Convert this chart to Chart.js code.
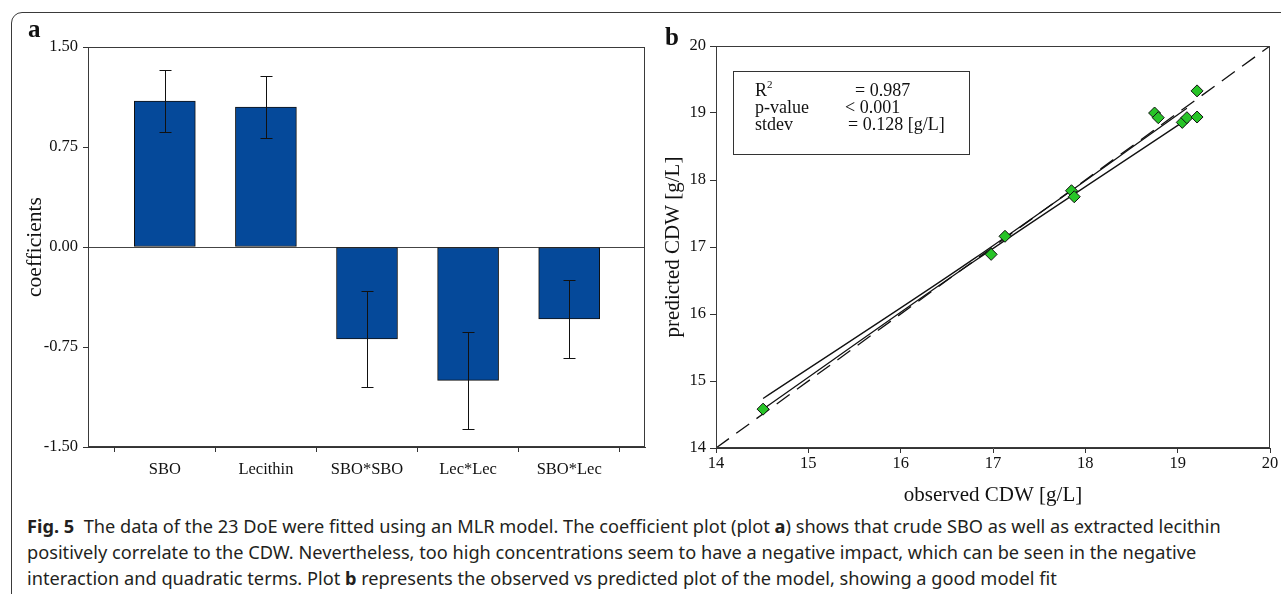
<!DOCTYPE html>
<html>
<head>
<meta charset="utf-8">
<script src="https://cdn.jsdelivr.net/npm/chart.js@4.4.1/dist/chart.umd.min.js"></script>
<style>
  body { margin: 0; width: 1281px; height: 594px; overflow: hidden; background: #fff; position: relative; font-family: "Liberation Serif", serif; color: #111; }
  .frame { position: absolute; left: 11px; top: 12px; width: 1320px; height: 640px; border: 1.5px solid #3a3a3a; border-radius: 11px; box-sizing: border-box; }
  canvas { position: absolute; top: 0; }
  #chartA { left: 0; }
  #chartB { left: 650px; }
  .panel-label { position: absolute; font: bold 25px/25px "Liberation Serif", serif; }
  .stats-box { position: absolute; left: 733px; top: 71px; width: 237px; height: 84px; border: 1.5px solid #333; box-sizing: border-box; }
  .st { position: absolute; font: 18px/18px "Liberation Serif", serif; white-space: nowrap; }
  .st sup { font-size: 11px; vertical-align: 8px; line-height: 0; }
  .caption { position: absolute; left: 27px; font: 18.2px/26px "Noto Sans", sans-serif; color: #231f20; white-space: nowrap; }
</style>
</head>
<body>
<div class="frame"></div>
<canvas id="chartA" width="660" height="510"></canvas>
<canvas id="chartB" width="631" height="510"></canvas>

<div class="panel-label" style="left:28px; top:16px;">a</div>
<div class="panel-label" style="left:665px; top:24px;">b</div>

<div class="stats-box"></div>
<div class="st" style="left:755px; top:81px;">R<sup>2</sup></div>
<div class="st" style="left:855px; top:81px;">= 0.987</div>
<div class="st" style="left:755px; top:98px;">p-value</div>
<div class="st" style="left:845px; top:98px;">&lt; 0.001</div>
<div class="st" style="left:755px; top:115px;">stdev</div>
<div class="st" style="left:848px; top:115px;">= 0.128 [g/L]</div>

<div class="caption" style="top:513px;"><b>Fig. 5</b>&nbsp; The data of the 23 DoE were fitted using an MLR model. The coefficient plot (plot <b>a</b>) shows that crude SBO as well as extracted lecithin</div>
<div class="caption" style="top:539px;">positively correlate to the CDW. Nevertheless, too high concentrations seem to have a negative impact, which can be seen in the negative</div>
<div class="caption" style="top:565px;">interaction and quadratic terms. Plot <b>b</b> represents the observed vs predicted plot of the model, showing a good model fit</div>

<script>
// plot a: MLR coefficients
const categories = ["SBO", "Lecithin", "SBO*SBO", "Lec*Lec", "SBO*Lec"];
const coefficients = [1.095, 1.05, -0.69, -1.0, -0.54];
const coefErrors = [0.236, 0.236, 0.362, 0.364, 0.29];
const coefTicks = [-1.5, -0.75, 0, 0.75, 1.5];

// plot b: observed vs predicted CDW [g/L]
const observedCDW = [19.21, 18.75, 18.79, 19.05, 19.1, 19.21, 17.85, 17.88, 17.13, 16.98, 14.51];
const predictedCDW = [19.33, 19.0, 18.93, 18.86, 18.93, 18.94, 17.84, 17.75, 17.16, 16.89, 14.58];
const cdwTicks = [14, 15, 16, 17, 18, 19, 20];
const unityLine = [14, 20];
const bandUpperX = [14.51, 16.8, 19.1];
const bandUpperY = [14.74, 16.83, 19.07];
const bandLowerX = [14.51, 16.8, 19.05];
const bandLowerY = [14.58, 16.79, 18.86];

const serif = (size) => ({ family: "Liberation Serif", size: size });

// box around the plot area
const frameBox = {
  id: "frameBox",
  afterDraw(chart) {
    const { ctx, chartArea: a } = chart;
    const l = Math.round(a.left) + 0.5, t = Math.round(a.top) + 0.5;
    const r = Math.round(a.right) - 0.5, b = Math.round(a.bottom) - 0.5;
    ctx.save();
    ctx.strokeStyle = "#3a3a3a";
    ctx.lineWidth = 1;
    ctx.strokeRect(l, t, r - l, b - t);
    ctx.restore();
  },
};

// whiskers on the coefficient bars
const errorBars = {
  id: "errorBars",
  afterDatasetsDraw(chart) {
    const { ctx, scales } = chart;
    ctx.save();
    ctx.strokeStyle = "#111";
    ctx.lineWidth = 1;
    coefficients.forEach((v, i) => {
      const px = Math.round(scales.x.getPixelForValue(i)) + 0.5;
      const top = Math.round(scales.y.getPixelForValue(v + coefErrors[i])) + 0.5;
      const bot = Math.round(scales.y.getPixelForValue(v - coefErrors[i])) + 0.5;
      ctx.beginPath();
      ctx.moveTo(px, top);
      ctx.lineTo(px, bot);
      ctx.moveTo(px - 6, top);
      ctx.lineTo(px + 6, top);
      ctx.moveTo(px - 6, bot);
      ctx.lineTo(px + 6, bot);
      ctx.stroke();
    });
    ctx.restore();
  },
};

new Chart(document.getElementById("chartA"), {
  type: "bar",
  data: {
    datasets: [
      {
        data: categories.map((c, i) => ({ x: i, y: coefficients[i] })),
        backgroundColor: "#05499a",
        borderColor: "#111",
        borderWidth: 1,
        borderSkipped: false,
        barThickness: 61,
      },
    ],
  },
  options: {
    responsive: false,
    animation: false,
    events: [],
    layout: { padding: { top: 47, right: 15, left: 0, bottom: 0 } },
    plugins: { legend: { display: false }, tooltip: { enabled: false } },
    scales: {
      x: {
        type: "linear",
        offset: false,
        min: -0.76,
        max: 4.75,
        afterFit: (s) => { s.height = 63; },
        afterBuildTicks: (s) => { s.ticks = categories.map((c, i) => ({ value: i })); },
        ticks: { callback: (v) => categories[v], font: serif(16.5), color: "#111", padding: 8, maxRotation: 0, autoSkip: false },
        grid: { drawOnChartArea: false, tickLength: 5, tickColor: "#333" },
        border: { color: "#333" },
      },
      y: {
        min: -1.5,
        max: 1.5,
        afterFit: (s) => { s.width = 88; },
        afterBuildTicks: (s) => { s.ticks = coefTicks.map((v) => ({ value: v })); },
        ticks: { callback: (v) => v.toFixed(2), font: serif(16.5), color: "#111", padding: 5 },
        grid: {
          color: (c) => (c.tick && c.tick.value === 0 ? "#444" : "rgba(0,0,0,0)"),
          tickLength: 5,
          tickColor: "#333",
        },
        border: { color: "#333" },
        title: { display: true, text: "coefficients", font: serif(21.5), color: "#111", padding: { top: 22, bottom: 0 } },
      },
    },
  },
  plugins: [frameBox, errorBars],
});

new Chart(document.getElementById("chartB"), {
  type: "scatter",
  data: {
    datasets: [
      {
        data: observedCDW.map((x, i) => ({ x: x, y: predictedCDW[i] })),
        pointStyle: "rectRot",
        pointRadius: 6,
        backgroundColor: "#27c427",
        borderColor: "#111",
        borderWidth: 1,
        order: 0,
      },
      {
        type: "line",
        data: unityLine.map((v) => ({ x: v, y: v })),
        borderColor: "#111",
        borderWidth: 1.3,
        borderDash: [16, 9],
        pointRadius: 0,
        order: 1,
      },
      {
        type: "line",
        data: bandUpperX.map((x, i) => ({ x: x, y: bandUpperY[i] })),
        borderColor: "#111",
        borderWidth: 1.3,
        pointRadius: 0,
        cubicInterpolationMode: "monotone",
        order: 1,
      },
      {
        type: "line",
        data: bandLowerX.map((x, i) => ({ x: x, y: bandLowerY[i] })),
        borderColor: "#111",
        borderWidth: 1.3,
        pointRadius: 0,
        cubicInterpolationMode: "monotone",
        order: 1,
      },
    ],
  },
  options: {
    responsive: false,
    animation: false,
    events: [],
    layout: { padding: { top: 46, right: 11, left: 0, bottom: 0 } },
    plugins: { legend: { display: false }, tooltip: { enabled: false } },
    scales: {
      x: {
        type: "linear",
        min: 14,
        max: 20,
        afterFit: (s) => { s.height = 62; },
        afterBuildTicks: (s) => { s.ticks = cdwTicks.map((v) => ({ value: v })); },
        ticks: { font: serif(16.5), color: "#111", padding: 1, maxRotation: 0 },
        grid: { drawOnChartArea: false, tickLength: 5, tickColor: "#333" },
        border: { color: "#333" },
        title: { display: true, text: "observed CDW [g/L]", font: serif(21), color: "#111", padding: { top: 0, bottom: 2 } },
      },
      y: {
        min: 14,
        max: 20,
        afterFit: (s) => { s.width = 66; },
        afterBuildTicks: (s) => { s.ticks = cdwTicks.map((v) => ({ value: v })); },
        ticks: { font: serif(16.5), color: "#111", padding: 4 },
        grid: { drawOnChartArea: false, tickLength: 6, tickColor: "#333" },
        border: { color: "#333" },
        title: { display: true, text: "predicted CDW [g/L]", font: serif(21), color: "#111", padding: { top: 11, bottom: 0 } },
      },
    },
  },
  plugins: [frameBox],
});
</script>
</body>
</html>
